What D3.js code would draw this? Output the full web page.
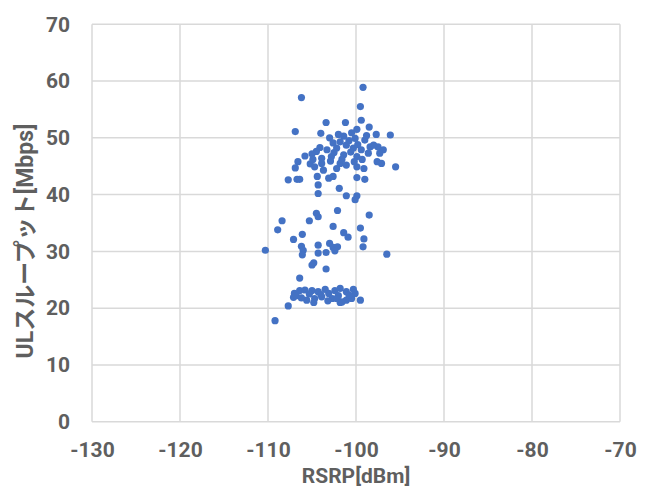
<!DOCTYPE html>
<html>
<head>
<meta charset="utf-8">
<script src="https://cdn.jsdelivr.net/npm/d3@7"></script>
<style>
	body { margin: 0; background: #fff; }
	svg { display: block; }
</style>
</head>
<body>
<div id="graphArea"></div>
<script>
// RSRP [dBm] of each measurement
var rsrp = [
	-99.2, -106.2, -99.5, -103.4, -101.2, -99.4, -106.9, -104.0, -99.9, -98.5,
	-97.7, -96.1, -101.4, -100.1, -99.0, -102.6, -101.8, -101.1, -104.1, -104.5,
	-103.3, -102.2, -100.3, -99.4, -98.4, -97.5, -96.9, -105.8, -103.9, -102.8,
	-101.4, -99.9, -98.6, -97.3, -106.6, -105.2, -103.9, -101.8, -101.1, -97.6,
	-97.1, -95.5, -106.9, -104.7, -103.7, -102.2, -99.9, -107.7, -106.7, -106.4,
	-104.4, -103.1, -102.6, -99.9, -99.0, -104.3, -101.9, -104.3, -101.1, -99.9,
	-100.1, -100.8, -99.8, -100.6, -102.5, -101.6, -100.2, -102.9, -99.3, -98.0,
	-98.8, -105.0, -104.9, -103.0, -102.0, -100.5, -99.1,
	-102.1, -98.5, -104.5, -104.3, -108.4, -105.3, -108.9, -102.6, -99.5, -101.4,
	-100.9, -106.1, -107.1, -99.1, -110.3, -106.2, -106.0, -104.3, -103.0, -102.6,
	-102.1, -99.2, -96.5, -106.1, -104.3, -103.4, -102.4, -104.8, -105.0, -103.4,
	-106.4,
	-107.0, -106.4, -105.8, -105.0, -104.3, -103.5, -103.1, -102.4, -101.8, -101.1,
	-100.3, -100.1, -107.1, -105.6, -104.7, -103.9, -102.7, -101.8, -101.1, -100.5,
	-99.5, -104.8, -107.7, -109.2, -106.8, -105.3, -104.0, -102.0, -100.8, -102.2,
	-101.6, -106.2, -103.2
]

// UL throughput [Mbps] of each measurement
var throughput = [
	58.9, 57.1, 55.5, 52.7, 52.7, 53.1, 51.1, 50.8, 51.5, 51.9,
	50.6, 50.5, 50.3, 49.9, 49.6, 49.1, 49.3, 48.7, 48.3, 47.6,
	47.9, 48.2, 48.2, 47.9, 48.4, 48.4, 47.9, 46.8, 46.4, 46.7,
	47.0, 46.7, 47.3, 47.3, 45.8, 45.4, 45.5, 45.5, 45.2, 45.8,
	45.5, 44.9, 44.7, 44.9, 44.3, 44.6, 44.9, 42.6, 42.7, 42.7,
	43.2, 42.9, 43.2, 43.0, 42.7, 41.7, 41.1, 40.2, 39.8, 39.8,
	39.1, 49.5, 48.8, 47.5, 47.4, 46.2, 45.8, 45.9, 46.2, 48.7,
	50.4, 47.2, 46.2, 50.0, 50.6, 50.9, 44.6,
	37.2, 36.4, 36.7, 36.1, 35.4, 35.4, 33.8, 34.4, 34.1, 33.3,
	32.5, 33.0, 32.1, 32.2, 30.2, 30.9, 30.2, 31.1, 31.4, 30.7,
	30.8, 30.8, 29.5, 29.4, 29.7, 29.8, 30.1, 28.0, 27.6, 26.9,
	25.3,
	22.6, 23.1, 23.2, 23.1, 22.9, 23.3, 22.6, 23.1, 23.5, 22.9,
	23.3, 22.6, 21.9, 21.4, 21.7, 22.0, 21.7, 21.0, 21.4, 21.7,
	21.4, 21.0, 20.4, 17.8, 22.2, 22.5, 22.4, 22.2, 22.3, 21.7,
	21.1, 21.8, 21.3
]

var xTicks = [-130, -120, -110, -100, -90, -80, -70]
var yTicks = [0, 10, 20, 30, 40, 50, 60, 70]

var xTitle = "RSRP[dBm]"
var yTitle = "ULスループット[Mbps]"

function graph() {
	var width = 655
	var height = 492
	var left = 92, right = 620, top = 24.3, bottom = 421.7
	var gray = "#5f5f5f"
	var gridColor = "#d9d9d9"
	var font = 'Roboto, "Noto Sans CJK JP", sans-serif'

	var svg = d3.select("#graphArea")
		.append("svg")
		.attr("width", width)
		.attr("height", height)
		.style("font-family", font)

	var x = d3.scaleLinear()
		.domain([-130, -70])
		.range([left, right])
	var y = d3.scaleLinear()
		.domain([0, 70])
		.range([bottom, top])

	// vertical gridlines
	svg.append("g")
		.selectAll("line")
		.data(xTicks)
		.enter()
		.append("line")
		.attr("x1", function(d) { return x(d) })
		.attr("x2", function(d) { return x(d) })
		.attr("y1", top)
		.attr("y2", bottom)
		.attr("stroke", gridColor)
		.attr("stroke-width", 1.5)

	// horizontal gridlines
	svg.append("g")
		.selectAll("line")
		.data(yTicks)
		.enter()
		.append("line")
		.attr("x1", left)
		.attr("x2", right)
		.attr("y1", function(d) { return y(d) })
		.attr("y2", function(d) { return y(d) })
		.attr("stroke", gridColor)
		.attr("stroke-width", 1.5)

	// bottom axis labels, plain hyphen for the minus sign
	var xAxis = svg.append("g")
		.attr("transform", "translate(0," + bottom + ")")
		.call(d3.axisBottom(x).tickValues(xTicks).tickSize(0).tickPadding(20)
			.tickFormat(function(d) { return String(d) }))
	xAxis.select(".domain").remove()
	xAxis.selectAll("text")
		.style("font-family", font)
		.style("font-size", "21px")
		.style("font-weight", "bold")
		.attr("fill", gray)

	// left axis labels
	var yAxis = svg.append("g")
		.attr("transform", "translate(" + left + ",0)")
		.call(d3.axisLeft(y).tickValues(yTicks).tickSize(0).tickPadding(22))
	yAxis.select(".domain").remove()
	yAxis.selectAll("text")
		.style("font-family", font)
		.style("font-size", "21px")
		.style("font-weight", "bold")
		.attr("fill", gray)

	// axis titles
	svg.append("text")
		.attr("text-anchor", "middle")
		.attr("x", (left + right) / 2)
		.attr("y", 483)
		.style("font-size", "21px")
		.style("font-weight", "bold")
		.attr("fill", gray)
		.text(xTitle)
	svg.append("text")
		.attr("text-anchor", "middle")
		.attr("transform", "translate(33,241) rotate(-90)")
		.style("font-size", "23px")
		.style("font-weight", "bold")
		.attr("fill", gray)
		.text(yTitle)

	var dat = rsrp.map(function(d, i) {
		return { rsrp: d, value: throughput[i] }
	})

	svg.selectAll("circle.pt")
		.data(dat)
		.enter()
		.append("circle")
		.attr("class", "pt")
		.attr("cx", function(d) { return x(d.rsrp) })
		.attr("cy", function(d) { return y(d.value) })
		.attr("r", 3.6)
		.attr("fill", "#4472c4")
}

graph()
</script>
</body>
</html>
